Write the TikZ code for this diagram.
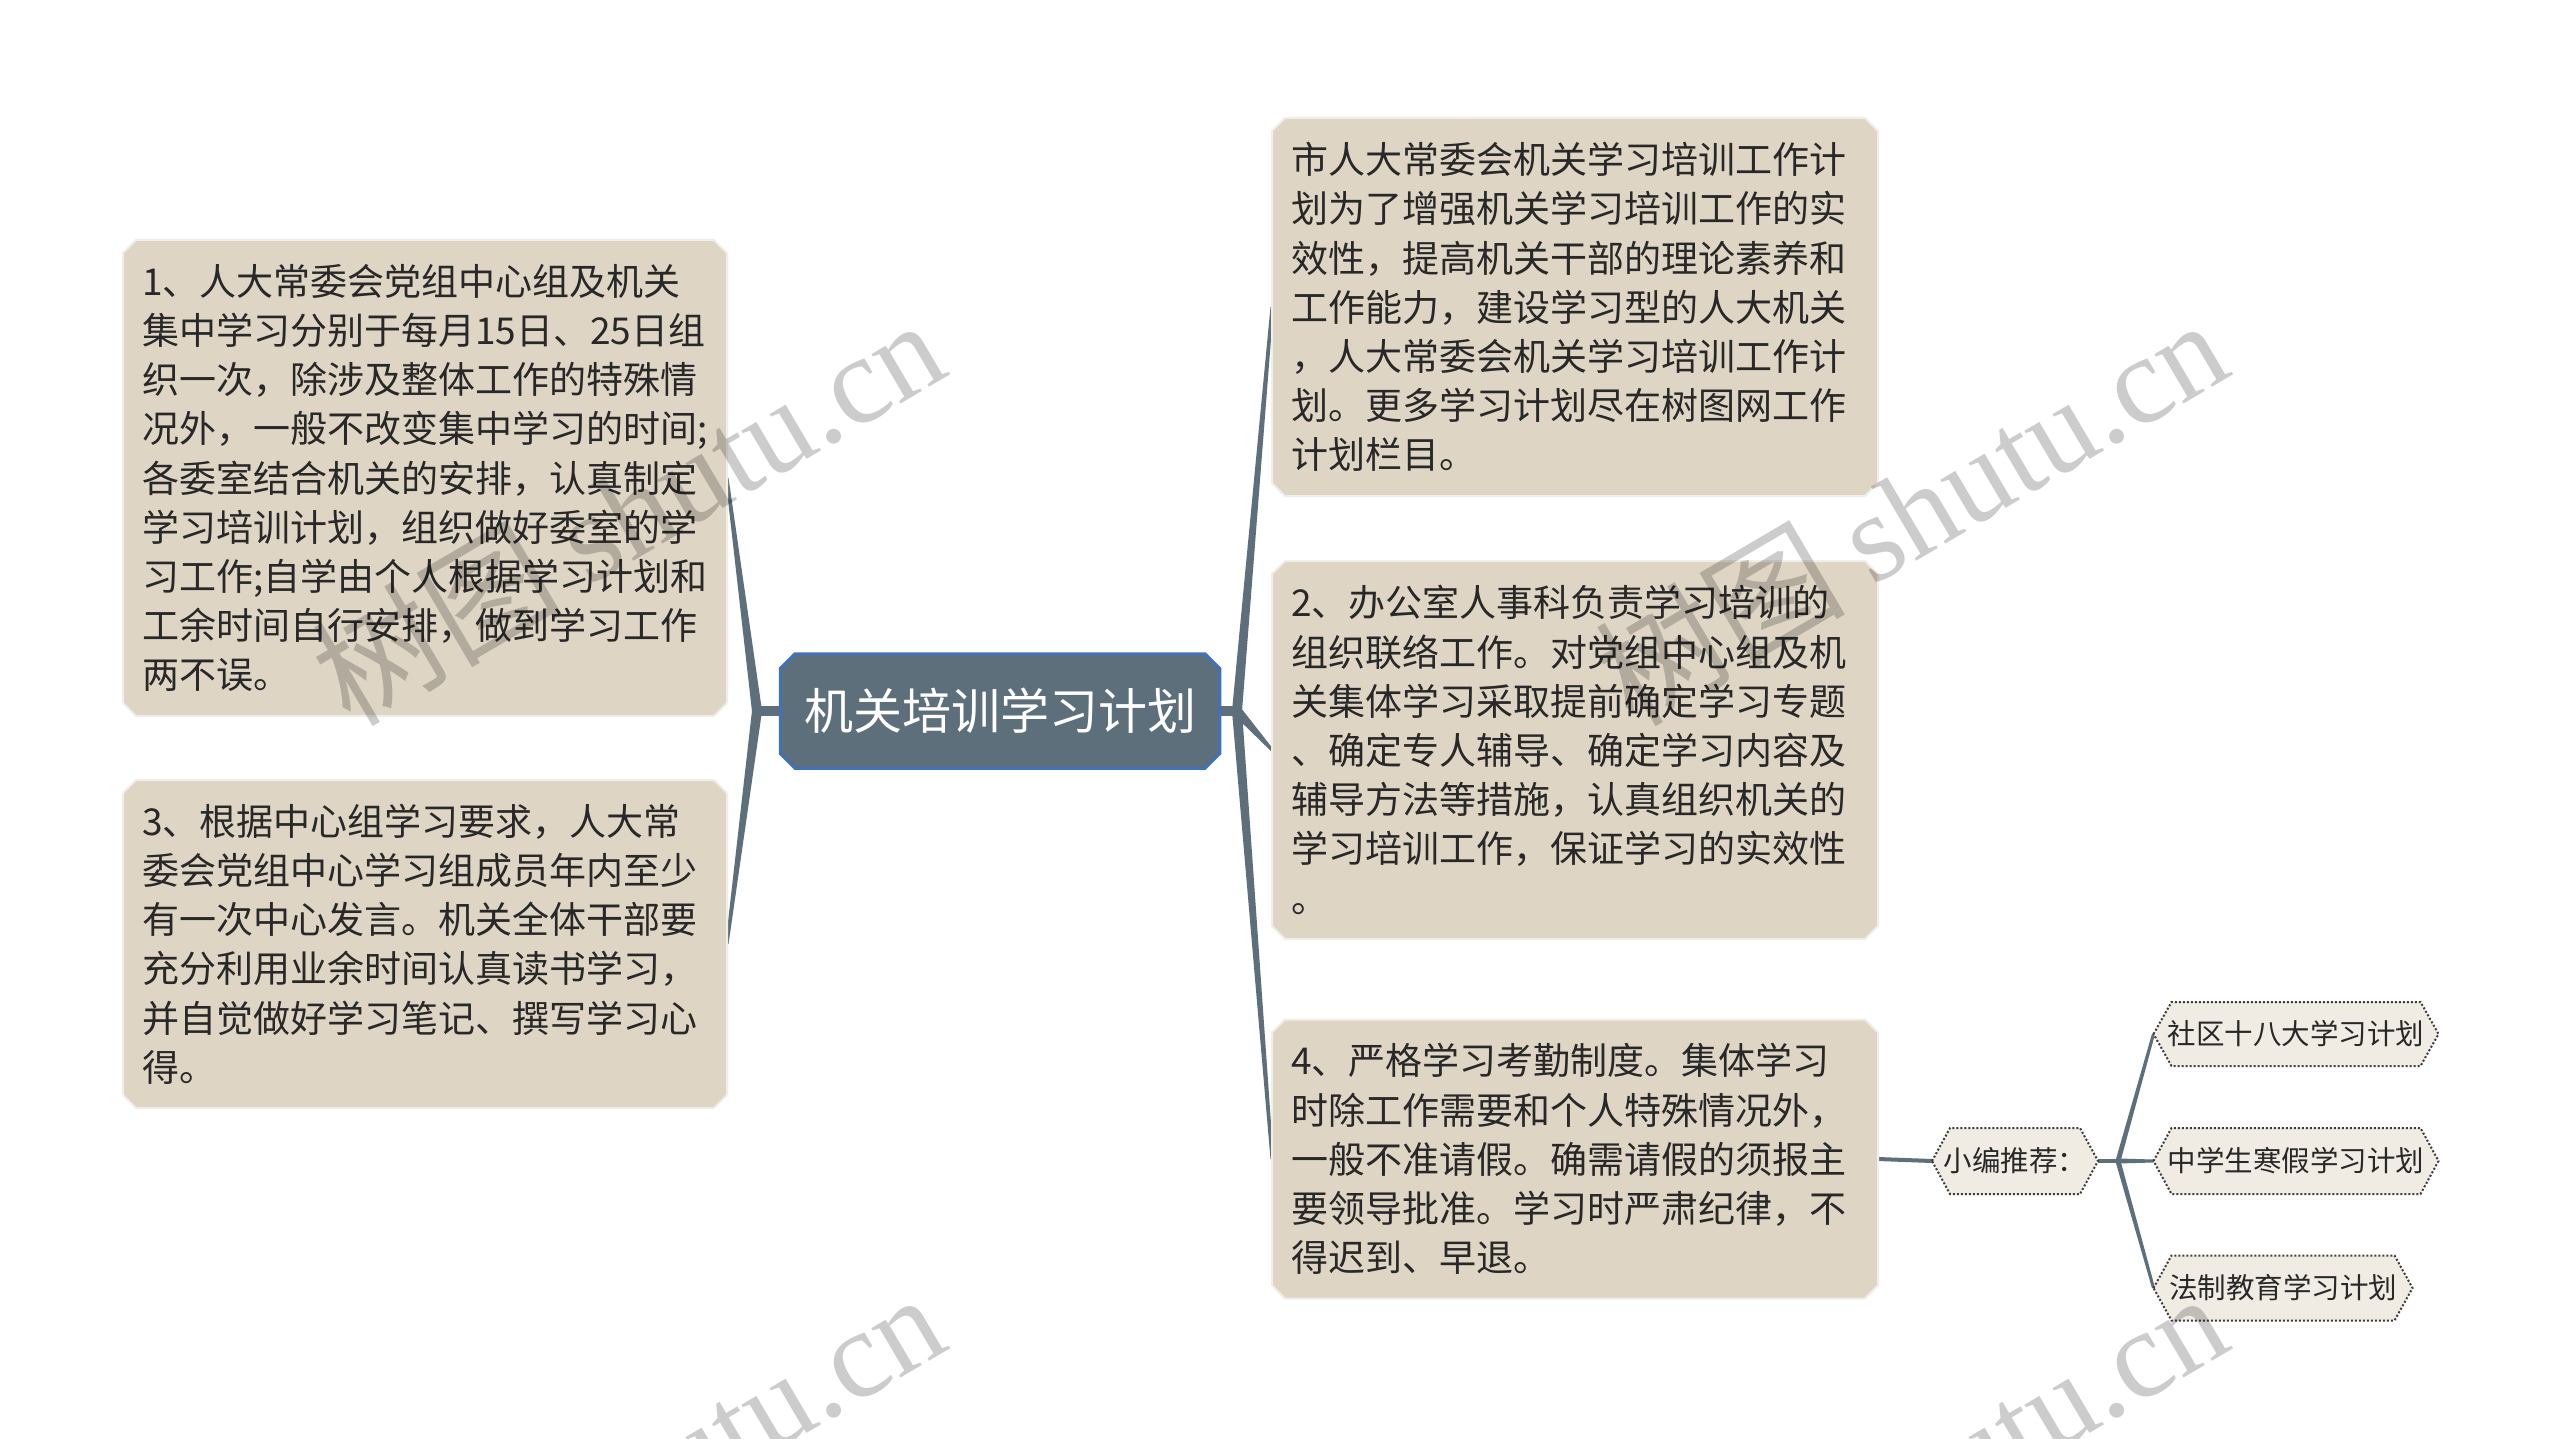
\documentclass[tikz,border=0pt]{standalone}
\usepackage{fontspec}
\setmainfont{Noto Sans CJK SC}
\newfontfamily\wmlatin{Liberation Serif}
\usetikzlibrary{calc}
\pgfdeclarelayer{bg}
\pgfsetlayers{bg,main}
\definecolor{boxfill}{HTML}{DED5C5}
\definecolor{boxedge}{HTML}{F1EEE8}
\definecolor{conncol}{HTML}{5C6F7B}
\definecolor{rootfill}{HTML}{5C6F7B}
\definecolor{rootedge}{HTML}{3A72C4}
\definecolor{txt}{HTML}{282828}
\definecolor{tagfill}{HTML}{F0ECE4}
\definecolor{tagedge}{HTML}{3C3C3C}
\newcommand{\taper}[4]{\fill[conncol] ($(#1)!#3!90:(#2)$) -- ($(#2)!#4!-90:(#1)$) -- ($(#2)!#4!90:(#1)$) -- ($(#1)!#3!-90:(#2)$) -- cycle;}
\newcommand{\octa}[3]{\path[#3] ($(#1.north west)+(#2,0)$) -- ($(#1.north east)+(-#2,0)$) -- ($(#1.north east)+(0,#2)$) -- ($(#1.south east)+(0,-#2)$) -- ($(#1.south east)+(-#2,0)$) -- ($(#1.south west)+(#2,0)$) -- ($(#1.south west)+(0,-#2)$) -- ($(#1.north west)+(0,#2)$) -- cycle;}
\newcommand{\hexa}[3]{\path[#3] (#1.west) -- ($(#1.north west)+(#2,0)$) -- ($(#1.north east)+(-#2,0)$) -- (#1.east) -- ($(#1.south east)+(-#2,0)$) -- ($(#1.south west)+(#2,0)$) -- cycle;}
\begin{document}
\begin{tikzpicture}[x=1pt,y=-1pt,
  boxtext/.style={inner xsep=19pt, inner ysep=0pt, outer sep=0pt, align=left, text width=#1, text=txt, font=\fontsize{37}{49.2}\selectfont},
  boxshape/.style={fill=boxfill, draw=boxedge, line width=2pt},
  roottext/.style={inner sep=0pt, outer sep=0pt, text=white, font=\fontsize{49}{58}\selectfont},
  rootshape/.style={fill=rootfill, draw=rootedge, line width=2.5pt},
  tagtext/.style={inner sep=0pt, outer sep=0pt, text=txt, font=\fontsize{28.5}{34}\selectfont},
  tagshape/.style={fill=tagfill, draw=tagedge, line width=2pt, dotted},
  wmark/.style={text=black, text opacity=0.2, rotate=30.5, inner sep=0pt},
  thinconn/.style={draw=conncol, line width=4pt},
  stubconn/.style={draw=conncol, line width=10pt}]
\useasboundingbox (0,0) rectangle (2560,1439);

\node[roottext, minimum width=440pt, minimum height=115pt] (root) at (1000,711) {机关培训学习计划};

\node[boxtext=566pt, minimum height=476pt] (b1) at (425,478) {1、人大常委会党组中心组及机关\\集中学习分别于每月15日、25日组\\织一次，除涉及整体工作的特殊情\\况外，一般不改变集中学习的时间;\\各委室结合机关的安排，认真制定\\学习培训计划，组织做好委室的学\\习工作;自学由个人根据学习计划和\\工余时间自行安排，做到学习工作\\两不误。};

\node[boxtext=566pt, minimum height=328pt] (b3) at (425,944) {3、根据中心组学习要求，人大常\\委会党组中心学习组成员年内至少\\有一次中心发言。机关全体干部要\\充分利用业余时间认真读书学习，\\并自觉做好学习笔记、撰写学习心\\得。};

\node[boxtext=568pt, minimum height=378pt] (r1) at (1575,307) {市人大常委会机关学习培训工作计\\划为了增强机关学习培训工作的实\\效性，提高机关干部的理论素养和\\工作能力，建设学习型的人大机关\\，人大常委会机关学习培训工作计\\划。更多学习计划尽在树图网工作\\计划栏目。};

\node[boxtext=568pt, minimum height=378pt] (r2) at (1575,750) {2、办公室人事科负责学习培训的\\组织联络工作。对党组中心组及机\\关集体学习采取提前确定学习专题\\、确定专人辅导、确定学习内容及\\辅导方法等措施，认真组织机关的\\学习培训工作，保证学习的实效性\\。};

\node[boxtext=568pt, minimum height=279pt] (r4) at (1575,1159) {4、严格学习考勤制度。集体学习\\时除工作需要和个人特殊情况外，\\一般不准请假。确需请假的须报主\\要领导批准。学习时严肃纪律，不\\得迟到、早退。};

\node[tagtext, minimum width=166pt, minimum height=66pt] (xb) at (2015,1161) {小编推荐：};
\node[tagtext, minimum width=285pt, minimum height=64pt] (s1) at (2296,1034) {社区十八大学习计划};
\node[tagtext, minimum width=285pt, minimum height=66pt] (s2) at (2296,1161) {中学生寒假学习计划};
\node[tagtext, minimum width=259pt, minimum height=65pt] (s3) at (2283,1288) {法制教育学习计划};

\coordinate (jl) at (757,711);
\coordinate (jr) at (1237,711);
\coordinate (jx) at (2118,1161);

\begin{pgfonlayer}{bg}
  \fill[white] (0,0) rectangle (2560,1439);
  \path[stubconn] (root.west) -- (jl);
  \path[stubconn] (root.east) -- (jr);
  \taper{jl}{b1.east}{5pt}{1.5pt}
  \taper{jl}{b3.east}{5pt}{1.5pt}
  \taper{jr}{r1.west}{5pt}{1.5pt}
  \taper{jr}{r2.west}{5pt}{1.5pt}
  \taper{jr}{r4.west}{5pt}{1.5pt}
  \path[thinconn] (r4.east) -- (xb.west);
  \path[thinconn] (xb.east) -- (jx);
  \taper{jx}{s1.west}{2.5pt}{1.5pt}
  \taper{jx}{s2.west}{2.5pt}{1.5pt}
  \taper{jx}{s3.west}{2.5pt}{1.5pt}
  \octa{b1}{13}{boxshape}
  \octa{b3}{13}{boxshape}
  \octa{r1}{13}{boxshape}
  \octa{r2}{13}{boxshape}
  \octa{r4}{13}{boxshape}
  \octa{root}{15}{rootshape}
  \hexa{xb}{18}{tagshape}
  \hexa{s1}{18}{tagshape}
  \hexa{s2}{18}{tagshape}
  \hexa{s3}{18}{tagshape}
\end{pgfonlayer}

\begin{scope}
  \clip (0,0) rectangle (2560,1439);
  \node[wmark] (wm1) at (627,510) {\fontsize{125}{125}\selectfont 树图 {\wmlatin shutu.cn}};
  \node[wmark] (wm2) at (1910,510) {\fontsize{125}{125}\selectfont 树图 {\wmlatin shutu.cn}};
  \node[wmark] (wm3) at (627,1484) {\fontsize{125}{125}\selectfont 树图 {\wmlatin shutu.cn}};
  \node[wmark] (wm4) at (1910,1484) {\fontsize{125}{125}\selectfont 树图 {\wmlatin shutu.cn}};
\end{scope}
\end{tikzpicture}
\end{document}
